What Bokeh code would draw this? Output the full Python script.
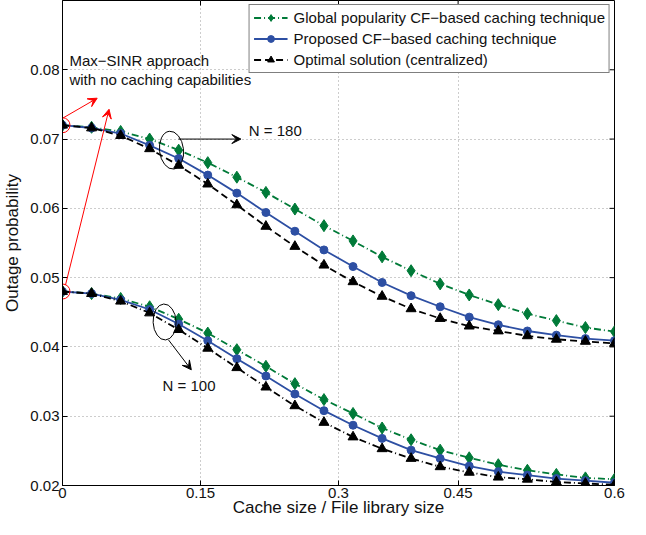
import math
from bokeh.plotting import figure
from bokeh.models import (FixedTicker, Legend, LegendItem, Arrow, VeeHead, Label,
                          Range1d)
from bokeh.embed import file_html
from bokeh.resources import INLINE

# ---------------- data ----------------
cache_ratio = [0.0, 0.0316, 0.0632, 0.0947, 0.1263, 0.1579, 0.1895, 0.2211,
               0.2526, 0.2842, 0.3158, 0.3474, 0.3789, 0.4105, 0.4421, 0.4737,
               0.5053, 0.5368, 0.5684, 0.6]

n180_global = [0.0720, 0.0717, 0.0711, 0.0700, 0.0684, 0.0666, 0.0645, 0.0623,
               0.0599, 0.0575, 0.0553, 0.0530, 0.0510, 0.0491, 0.0475, 0.0461,
               0.0448, 0.0438, 0.0428, 0.0422]
n180_proposed = [0.0720, 0.0716, 0.0708, 0.0691, 0.0672, 0.0648, 0.0622, 0.0594,
                 0.0567, 0.0540, 0.0516, 0.0493, 0.0474, 0.0458, 0.0443, 0.0432,
                 0.0423, 0.0417, 0.0412, 0.0409]
n180_optimal = [0.0720, 0.0716, 0.0705, 0.0686, 0.0662, 0.0635, 0.0605, 0.0574,
                0.0545, 0.0518, 0.0494, 0.0473, 0.0455, 0.0441, 0.0430, 0.0423,
                0.0416, 0.0411, 0.0408, 0.0405]

n100_global = [0.0480, 0.0477, 0.0470, 0.0458, 0.0440, 0.0420, 0.0396, 0.0372,
               0.0347, 0.0324, 0.0304, 0.0283, 0.0266, 0.0251, 0.0240, 0.0230,
               0.0222, 0.0216, 0.0211, 0.0209]
n100_proposed = [0.0480, 0.0477, 0.0468, 0.0454, 0.0433, 0.0409, 0.0383, 0.0358,
                 0.0332, 0.0308, 0.0287, 0.0268, 0.0251, 0.0239, 0.0228, 0.0220,
                 0.0215, 0.0210, 0.0207, 0.0204]
n100_optimal = [0.0480, 0.0477, 0.0466, 0.0449, 0.0425, 0.0398, 0.0370, 0.0342,
                0.0315, 0.0291, 0.0270, 0.0253, 0.0239, 0.0227, 0.0219, 0.0212,
                0.0209, 0.0205, 0.0203, 0.0201]

series_labels = ["Global popularity CF\u2212based caching technique",
                 "Proposed CF\u2212based caching technique",
                 "Optimal solution (centralized)"]

x_tick_pos = [0, 0.15, 0.3, 0.43, 0.6]
x_tick_labels = ["0", "0.15", "0.3", "0.45", "0.6"]
y_tick_pos = [0.02, 0.03, 0.04, 0.05, 0.06, 0.07, 0.08]
y_tick_labels = ["0.02", "0.03", "0.04", "0.05", "0.06", "0.07", "0.08"]

X_MIN, X_MAX = 0.0, 0.6
Y_MIN, Y_MAX = 0.02, 0.09

# ---------------- styles ----------------
FONT = "Liberation Sans"
FS = "15px"
FS_LABEL = "17px"
GREEN = "#007a38"
BLUE = "#2d4fa3"
BLACK = "#000000"
TXT = "#111111"

p = figure(width=630, height=519, x_range=Range1d(X_MIN, X_MAX),
           y_range=Range1d(Y_MIN, Y_MAX), output_backend="svg",
           toolbar_location=None, min_border_left=57, min_border_right=16,
           min_border_top=0, min_border_bottom=0)

p.background_fill_color = "white"
p.border_fill_color = "white"
p.outline_line_color = "black"
p.outline_line_width = 1

for ax in (p.xaxis[0], p.yaxis[0]):
    ax.major_tick_in = 5
    ax.major_tick_out = 0
    ax.minor_tick_line_color = None
    ax.axis_line_color = "black"
    ax.major_tick_line_color = "black"
    ax.major_label_text_font = FONT
    ax.major_label_text_font_size = FS
    ax.major_label_text_color = TXT
    ax.axis_label_text_font = FONT
    ax.axis_label_text_font_size = FS_LABEL
    ax.axis_label_text_font_style = "normal"
    ax.axis_label_text_color = TXT

p.xaxis.ticker = FixedTicker(ticks=x_tick_pos)
p.xaxis.major_label_overrides = dict(zip(x_tick_pos, x_tick_labels))
p.yaxis.ticker = FixedTicker(ticks=y_tick_pos)
p.yaxis.major_label_overrides = dict(zip(y_tick_pos, y_tick_labels))
p.xaxis.axis_label = "Cache size / File library size"
p.yaxis.axis_label = "Outage probability"
p.xaxis.major_label_standoff = 2
p.xaxis.axis_label_standoff = -3
p.yaxis.major_label_standoff = 3
p.yaxis.axis_label_standoff = 5

for g in (p.xgrid[0], p.ygrid[0]):
    g.grid_line_color = "#9a9a9a"
    g.grid_line_dash = "1 3"
    g.grid_line_width = 1
p.xgrid.ticker = FixedTicker(ticks=x_tick_pos)
p.ygrid.ticker = FixedTicker(ticks=y_tick_pos)

# mirror tick marks on the top and right borders (MATLAB "box on")
p.ray(x=x_tick_pos, y=[Y_MAX] * len(x_tick_pos), length=5, length_units="screen",
      angle=-math.pi / 2, line_color="black", line_width=1)
p.ray(x=[X_MAX] * len(y_tick_pos), y=y_tick_pos, length=5, length_units="screen",
      angle=math.pi, line_color="black", line_width=1)

LW = 1.8
legend_rs = [[], [], []]

def draw(ys, color, dash, marker, size, idx):
    lr = p.line(cache_ratio, ys, line_color=color, line_width=LW, line_dash=dash)
    sr = p.scatter(cache_ratio, ys, marker=marker, size=size, fill_color=color,
                   line_color=color)
    legend_rs[idx].append((lr, sr))

draw(n180_global, GREEN, "7 3 1 3", "diamond", 12, 0)
draw(n180_proposed, BLUE, "solid", "circle", 8, 1)
draw(n180_optimal, BLACK, "7 4", "triangle", 10, 2)
draw(n100_global, GREEN, "7 3 1 3", "diamond", 12, 0)
draw(n100_proposed, BLUE, "solid", "circle", 8, 1)
draw(n100_optimal, BLACK, "7 3 1 3", "triangle", 10, 2)

items = [LegendItem(label=series_labels[i], renderers=list(legend_rs[i][0]))
         for i in range(3)]
legend = Legend(items=items, location="top_right", margin=4, padding=4,
                spacing=4, glyph_width=34, glyph_height=17, label_height=17,
                label_standoff=6, label_text_font=FONT, label_text_font_size=FS,
                label_text_color=TXT, border_line_color="black",
                border_line_width=1, background_fill_alpha=1.0)
p.add_layout(legend)

# ---------------- annotations ----------------
p.scatter([cache_ratio[0], cache_ratio[0]], [n180_optimal[0], n100_optimal[0]],
          marker="circle", size=15, fill_color=None, line_color="red", line_width=1)

p.add_layout(Label(x=0.0075, y=0.0813, text="Max\u2212SINR approach",
                   text_font=FONT, text_font_size=FS, text_baseline="middle",
                   text_color=TXT))
p.add_layout(Label(x=0.0075, y=0.0786, text="with no caching capabilities",
                   text_font=FONT, text_font_size=FS, text_baseline="middle",
                   text_color=TXT))

p.add_layout(Arrow(end=VeeHead(size=9, line_color="red", fill_color="red", line_width=1),
                   x_start=0.0, y_start=0.0730, x_end=0.0377, y_end=0.0759,
                   line_color="red", line_width=1))
p.add_layout(Arrow(end=VeeHead(size=9, line_color="red", fill_color="red", line_width=1),
                   x_start=0.0032, y_start=0.0489, x_end=0.0506, y_end=0.0743,
                   line_color="red", line_width=1))

p.ellipse(x=[0.1185], y=[0.0684], width=24, height=38, width_units="screen",
          height_units="screen", angle=0.12, fill_color=None, line_color="black",
          line_width=1)
p.ellipse(x=[0.111], y=[0.0436], width=23, height=36, width_units="screen",
          height_units="screen", angle=0.05, fill_color=None, line_color="black",
          line_width=1)

p.add_layout(Arrow(end=VeeHead(size=9, line_color="black", fill_color="black", line_width=1),
                   x_start=0.126, y_start=0.0700, x_end=0.1939, y_end=0.0700,
                   line_color="black", line_width=1))
p.add_layout(Arrow(end=VeeHead(size=9, line_color="black", fill_color="black", line_width=1),
                   x_start=0.1153, y_start=0.0410, x_end=0.1400, y_end=0.0367,
                   line_color="black", line_width=1))

p.add_layout(Label(x=0.2025, y=0.0713, text="N = 180", text_font=FONT,
                   text_font_size=FS, text_baseline="middle", text_color=TXT))
p.add_layout(Label(x=0.1088, y=0.0344, text="N = 100", text_font=FONT,
                   text_font_size=FS, text_baseline="middle", text_color=TXT))

open("out.html", "w").write(file_html(p, INLINE))
